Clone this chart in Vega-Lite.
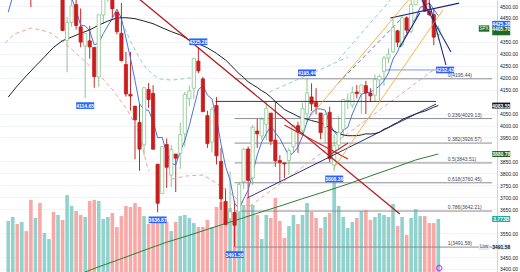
{
"$schema":"https://vega.github.io/schema/vega-lite/v6.json",
"width":497,"height":272,"autosize":{"type":"none"},"padding":{"left":0,"top":0,"right":23,"bottom":0},"background":"#ffffff",
"config":{"view":{"stroke":null},"font":"Liberation Sans"},
"datasets":{
"cd":[
{"i":0,"o":4553.7,"h":4608.1,"l":4537.4,"c":4605.4,"v":3.64},
{"i":1,"o":4610.6,"h":4718.5,"l":4595.1,"c":4697.5,"v":3.92},
{"i":2,"o":4701.5,"h":4714.9,"l":4630.9,"c":4682.9,"v":3.42},
{"i":3,"o":4689.3,"h":4743.8,"l":4650.1,"c":4698.0,"v":3.57},
{"i":4,"o":4712.0,"h":4717.8,"l":4585.4,"c":4594.6,"v":2.92},
{"i":5,"o":4628.8,"h":4672.9,"l":4495.1,"c":4538.4,"v":5.14},
{"i":6,"o":4548.4,"h":4713.6,"l":4532.3,"c":4712.0,"v":3.85},
{"i":7,"o":4710.3,"h":4731.9,"l":4600.2,"c":4620.6,"v":4.92},
{"i":8,"o":4587.9,"h":4740.7,"l":4531.1,"c":4725.8,"v":2.78},
{"i":9,"o":4733.0,"h":4808.9,"l":4733.0,"c":4766.2,"v":2.35},
{"i":10,"o":4778.1,"h":4818.6,"l":4662.7,"c":4677.0,"v":4.28},
{"i":11,"o":4655.3,"h":4749.0,"l":4582.2,"c":4662.9,"v":4.07},
{"i":12,"o":4632.2,"h":4632.2,"l":4395.3,"c":4397.9,"v":3.71},
{"i":13,"o":4356.3,"h":4453.2,"l":4222.6,"c":4431.9,"v":5.49},
{"i":14,"o":4431.8,"h":4595.3,"l":4414.0,"c":4500.5,"v":4.71},
{"i":15,"o":4505.8,"h":4590.0,"l":4401.4,"c":4418.6,"v":4.35},
{"i":16,"o":4412.6,"h":4489.6,"l":4327.2,"c":4348.9,"v":4.07},
{"i":17,"o":4332.7,"h":4362.1,"l":4114.7,"c":4384.7,"v":3.92},
{"i":18,"o":4354.2,"h":4416.8,"l":4279.5,"c":4328.9,"v":5.06},
{"i":19,"o":4327.0,"h":4327.0,"l":4157.9,"c":4204.3,"v":5.14},
{"i":20,"o":4202.8,"h":4465.4,"l":4161.7,"c":4463.1,"v":5.06},
{"i":21,"o":4462.4,"h":4546.0,"l":4424.3,"c":4543.1,"v":3.78},
{"i":22,"o":4541.1,"h":4637.3,"l":4517.7,"c":4545.9,"v":3.92},
{"i":23,"o":4547.0,"h":4593.5,"l":4450.0,"c":4488.3,"v":4.21},
{"i":24,"o":4474.7,"h":4474.7,"l":4381.3,"c":4392.6,"v":3.21},
{"i":25,"o":4385.6,"h":4512.9,"l":4267.6,"c":4271.8,"v":3.99},
{"i":26,"o":4255.3,"h":4308.5,"l":4121.0,"c":4131.9,"v":4.71},
{"i":27,"o":4130.6,"h":4307.7,"l":4062.5,"c":4123.3,"v":4.64},
{"i":28,"o":4081.3,"h":4081.3,"l":3858.9,"c":4023.9,"v":4.92},
{"i":29,"o":4013.0,"h":4090.7,"l":3810.3,"c":3901.4,"v":4.64},
{"i":30,"o":3919.4,"h":4158.5,"l":3875.1,"c":4158.2,"v":3.99},
{"i":31,"o":4151.1,"h":4177.5,"l":4073.9,"c":4108.5,"v":3.42},
{"i":32,"o":4134.7,"h":4168.8,"l":3900.2,"c":3900.9,"v":3.49},
{"i":33,"o":3838.2,"h":3838.2,"l":3636.9,"c":3674.8,"v":3.57},
{"i":34,"o":3715.3,"h":3913.7,"l":3715.3,"c":3911.7,"v":3.85},
{"i":35,"o":3920.8,"h":3945.9,"l":3738.7,"c":3825.3,"v":3.57},
{"i":36,"o":3792.6,"h":3918.5,"l":3742.1,"c":3899.4,"v":2.92},
{"i":37,"o":3880.9,"h":3880.9,"l":3721.6,"c":3863.2,"v":3.57},
{"i":38,"o":3883.8,"h":4012.4,"l":3818.6,"c":3961.6,"v":3.99},
{"i":39,"o":3965.7,"h":4140.2,"l":3911.1,"c":4130.3,"v":4.07},
{"i":40,"o":4112.4,"h":4167.7,"l":4079.8,"c":4145.2,"v":3.85},
{"i":41,"o":4155.9,"h":4280.5,"l":4112.1,"c":4280.2,"v":3.49},
{"i":42,"o":4269.4,"h":4325.3,"l":4218.7,"c":4228.5,"v":3.21},
{"i":43,"o":4195.1,"h":4203.0,"l":4057.7,"c":4057.7,"v":3.21},
{"i":44,"o":4041.3,"h":4062.0,"l":3906.2,"c":3924.3,"v":3.71},
{"i":45,"o":3930.9,"h":4076.8,"l":3886.8,"c":4067.4,"v":3.21},
{"i":46,"o":4083.7,"h":4119.3,"l":3837.1,"c":3873.3,"v":4.64},
{"i":47,"o":3849.9,"h":3906.0,"l":3647.5,"c":3693.2,"v":4.99},
{"i":48,"o":3682.7,"h":3736.7,"l":3584.1,"c":3585.6,"v":3.85},
{"i":49,"o":3609.8,"h":3806.9,"l":3609.8,"c":3639.7,"v":4.56},
{"i":50,"o":3636.3,"h":3685.4,"l":3491.6,"c":3583.1,"v":4.14},
{"i":51,"o":3638.7,"h":3762.8,"l":3638.7,"c":3752.8,"v":4.78},
{"i":52,"o":3764.7,"h":3905.4,"l":3735.0,"c":3901.1,"v":4.78},
{"i":53,"o":3901.8,"h":3911.8,"l":3698.2,"c":3770.6,"v":5.28},
{"i":54,"o":3780.7,"h":4001.5,"l":3751.0,"c":3992.9,"v":4.78},
{"i":55,"o":3977.0,"h":4028.8,"l":3906.5,"c":3965.3,"v":4.07},
{"i":56,"o":3956.2,"h":4034.0,"l":3940.0,"c":4026.1,"v":2.35},
{"i":57,"o":4005.4,"h":4101.0,"l":3938.0,"c":4071.7,"v":4.07},
{"i":58,"o":4052.0,"h":4052.5,"l":3918.4,"c":3934.4,"v":3.85},
{"i":59,"o":3939.3,"h":4100.5,"l":3827.3,"c":3852.4,"v":5.28},
{"i":60,"o":3853.8,"h":3876.1,"l":3764.5,"c":3844.8,"v":3.64},
{"i":61,"o":3843.3,"h":3846.7,"l":3780.0,"c":3839.5,"v":2.43},
{"i":62,"o":3853.3,"h":3906.0,"l":3794.3,"c":3895.1,"v":3.28},
{"i":63,"o":3910.8,"h":4004.0,"l":3885.0,"c":3999.1,"v":4.07},
{"i":64,"o":3999.3,"h":4015.4,"l":3885.5,"c":3972.6,"v":3.42},
{"i":65,"o":3978.1,"h":4094.2,"l":3965.0,"c":4070.6,"v":4.07},
{"i":66,"o":4049.3,"h":4195.4,"l":4012.0,"c":4136.5,"v":4.92},
{"i":67,"o":4119.6,"h":4176.5,"l":4060.8,"c":4090.5,"v":4.28},
{"i":68,"o":4096.6,"h":4156.0,"l":4047.0,"c":4079.1,"v":3.85},
{"i":69,"o":4052.4,"h":4052.4,"l":3943.0,"c":3970.0,"v":3.14},
{"i":70,"o":3992.4,"h":4050.0,"l":3928.2,"c":4045.6,"v":3.92},
{"i":71,"o":4055.2,"h":4078.5,"l":3847.0,"c":3861.6,"v":4.21},
{"i":72,"o":3835.1,"h":3962.0,"l":3808.9,"c":3916.6,"v":6.56},
{"i":73,"o":3917.5,"h":4039.5,"l":3901.0,"c":3971.0,"v":4.71},
{"i":74,"o":3982.9,"h":4110.8,"l":3951.5,"c":4109.3,"v":3.92},
{"i":75,"o":4102.2,"h":4133.1,"l":4069.0,"c":4105.0,"v":3.14},
{"i":76,"o":4085.2,"h":4163.2,"l":4072.5,"c":4137.6,"v":3.57},
{"i":77,"o":4140.2,"h":4169.5,"l":4113.9,"c":4133.5,"v":3.85},
{"i":78,"o":4134.0,"h":4170.1,"l":4049.4,"c":4169.5,"v":4.35},
{"i":79,"o":4166.8,"h":4186.9,"l":4048.3,"c":4136.3,"v":4.42},
{"i":80,"o":4136.0,"h":4156.0,"l":4098.0,"c":4124.1,"v":3.71},
{"i":81,"o":4126.7,"h":4212.9,"l":4098.0,"c":4192.0,"v":3.92},
{"i":82,"o":4190.8,"h":4212.0,"l":4104.0,"c":4205.5,"v":4.21},
{"i":83,"o":4226.7,"h":4290.7,"l":4166.2,"c":4282.4,"v":4.07},
{"i":84,"o":4282.0,"h":4322.6,"l":4261.0,"c":4298.9,"v":3.92},
{"i":85,"o":4308.3,"h":4448.5,"l":4304.0,"c":4409.6,"v":4.85},
{"i":86,"o":4396.1,"h":4400.2,"l":4328.0,"c":4348.3,"v":3.28},
{"i":87,"o":4337.4,"h":4458.5,"l":4328.1,"c":4450.4,"v":3.92},
{"i":88,"o":4450.5,"h":4456.5,"l":4385.1,"c":4399.0,"v":2.64},
{"i":89,"o":4394.2,"h":4527.8,"l":4385.0,"c":4505.4,"v":3.85},
{"i":90,"o":4505.4,"h":4578.4,"l":4504.5,"c":4536.3,"v":4.49},
{"i":91,"o":4543.4,"h":4607.1,"l":4527.6,"c":4582.2,"v":3.99},
{"i":92,"o":4578.8,"h":4584.6,"l":4474.6,"c":4478.0,"v":3.99},
{"i":93,"o":4478.9,"h":4527.4,"l":4458.7,"c":4464.1,"v":3.49},
{"i":94,"o":4464.1,"h":4490.3,"l":4335.3,"c":4369.7,"v":3.49},
{"i":95,"o":4380.3,"h":4418.5,"l":4356.3,"c":4405.7,"v":3.78}
],
"ma":[
{"k":"m5","i":0,"p":4474.0},{"k":"m5","i":1,"p":4542.1},{"k":"m5","i":2,"p":4600.2},{"k":"m5","i":3,"p":4645.7},{"k":"m5","i":4,"p":4655.7},{"k":"m5","i":5,"p":4642.3},{"k":"m5","i":6,"p":4645.2},{"k":"m5","i":7,"p":4632.7},{"k":"m5","i":8,"p":4638.3},{"k":"m5","i":9,"p":4672.6},{"k":"m5","i":10,"p":4700.3},{"k":"m5","i":11,"p":4690.5},{"k":"m5","i":12,"p":4646.0},{"k":"m5","i":13,"p":4587.2},{"k":"m5","i":14,"p":4534.0},{"k":"m5","i":15,"p":4482.4},{"k":"m5","i":16,"p":4419.6},{"k":"m5","i":17,"p":4416.9},{"k":"m5","i":18,"p":4396.3},{"k":"m5","i":19,"p":4337.1},{"k":"m5","i":20,"p":4346.0},{"k":"m5","i":21,"p":4384.8},{"k":"m5","i":22,"p":4417.0},{"k":"m5","i":23,"p":4448.9},{"k":"m5","i":24,"p":4486.6},{"k":"m5","i":25,"p":4448.3},{"k":"m5","i":26,"p":4366.1},{"k":"m5","i":27,"p":4281.6},{"k":"m5","i":28,"p":4188.7},{"k":"m5","i":29,"p":4090.5},{"k":"m5","i":30,"p":4067.8},{"k":"m5","i":31,"p":4063.1},{"k":"m5","i":32,"p":4018.6},{"k":"m5","i":33,"p":3948.8},{"k":"m5","i":34,"p":3950.8},{"k":"m5","i":35,"p":3884.3},{"k":"m5","i":36,"p":3842.4},{"k":"m5","i":37,"p":3834.9},{"k":"m5","i":38,"p":3892.2},{"k":"m5","i":39,"p":3936.0},{"k":"m5","i":40,"p":4000.0},{"k":"m5","i":41,"p":4076.1},{"k":"m5","i":42,"p":4149.1},{"k":"m5","i":43,"p":4168.4},{"k":"m5","i":44,"p":4127.1},{"k":"m5","i":45,"p":4111.6},{"k":"m5","i":46,"p":4030.2},{"k":"m5","i":47,"p":3923.2},{"k":"m5","i":48,"p":3828.8},{"k":"m5","i":49,"p":3771.8},{"k":"m5","i":50,"p":3675.0},{"k":"m5","i":51,"p":3650.9},{"k":"m5","i":52,"p":3692.4},{"k":"m5","i":53,"p":3729.4},{"k":"m5","i":54,"p":3800.1},{"k":"m5","i":55,"p":3876.5},{"k":"m5","i":56,"p":3931.2},{"k":"m5","i":57,"p":3965.3},{"k":"m5","i":58,"p":3998.1},{"k":"m5","i":59,"p":3970.0},{"k":"m5","i":60,"p":3945.9},{"k":"m5","i":61,"p":3908.6},{"k":"m5","i":62,"p":3873.2},{"k":"m5","i":63,"p":3886.2},{"k":"m5","i":64,"p":3910.2},{"k":"m5","i":65,"p":3955.4},{"k":"m5","i":66,"p":4014.8},{"k":"m5","i":67,"p":4053.8},{"k":"m5","i":68,"p":4069.8},{"k":"m5","i":69,"p":4069.3},{"k":"m5","i":70,"p":4064.3},{"k":"m5","i":71,"p":4009.4},{"k":"m5","i":72,"p":3974.6},{"k":"m5","i":73,"p":3953.0},{"k":"m5","i":74,"p":3980.8},{"k":"m5","i":75,"p":3992.7},{"k":"m5","i":76,"p":4047.9},{"k":"m5","i":77,"p":4091.3},{"k":"m5","i":78,"p":4131.0},{"k":"m5","i":79,"p":4136.4},{"k":"m5","i":80,"p":4140.2},{"k":"m5","i":81,"p":4151.1},{"k":"m5","i":82,"p":4165.4},{"k":"m5","i":83,"p":4188.0},{"k":"m5","i":84,"p":4220.5},{"k":"m5","i":85,"p":4277.7},{"k":"m5","i":86,"p":4308.9},{"k":"m5","i":87,"p":4357.9},{"k":"m5","i":88,"p":4381.2},{"k":"m5","i":89,"p":4422.5},{"k":"m5","i":90,"p":4447.9},{"k":"m5","i":91,"p":4494.7},{"k":"m5","i":92,"p":4500.2},{"k":"m5","i":93,"p":4513.2},{"k":"m5","i":94,"p":4486.1},{"k":"m5","i":95,"p":4459.9},
{"k":"m50","i":0,"p":4119},{"k":"m50","i":2,"p":4166},{"k":"m50","i":4,"p":4208},{"k":"m50","i":6,"p":4248},{"k":"m50","i":8,"p":4287},{"k":"m50","i":10,"p":4327},{"k":"m50","i":12,"p":4355},{"k":"m50","i":14,"p":4370},{"k":"m50","i":16,"p":4386},{"k":"m50","i":18,"p":4400},{"k":"m50","i":20,"p":4420},{"k":"m50","i":22,"p":4437},{"k":"m50","i":24,"p":4450},{"k":"m50","i":26,"p":4451},{"k":"m50","i":28,"p":4447},{"k":"m50","i":30,"p":4437},{"k":"m50","i":32,"p":4426},{"k":"m50","i":34,"p":4409},{"k":"m50","i":36,"p":4393},{"k":"m50","i":38,"p":4379},{"k":"m50","i":40,"p":4358},{"k":"m50","i":42,"p":4342},{"k":"m50","i":44,"p":4325},{"k":"m50","i":46,"p":4302},{"k":"m50","i":48,"p":4274},{"k":"m50","i":49,"p":4256.2},{"k":"m50","i":50,"p":4235.8},{"k":"m50","i":51,"p":4216.9},{"k":"m50","i":52,"p":4201.2},{"k":"m50","i":53,"p":4182.7},{"k":"m50","i":54,"p":4170.7},{"k":"m50","i":55,"p":4159.2},{"k":"m50","i":56,"p":4145.5},{"k":"m50","i":57,"p":4134.5},{"k":"m50","i":58,"p":4118.7},{"k":"m50","i":59,"p":4100.4},{"k":"m50","i":60,"p":4083.8},{"k":"m50","i":61,"p":4067.3},{"k":"m50","i":62,"p":4057.2},{"k":"m50","i":63,"p":4048.6},{"k":"m50","i":64,"p":4038.0},{"k":"m50","i":65,"p":4031.1},{"k":"m50","i":66,"p":4026.8},{"k":"m50","i":67,"p":4020.9},{"k":"m50","i":68,"p":4015.9},{"k":"m50","i":69,"p":4011.3},{"k":"m50","i":70,"p":4002.9},{"k":"m50","i":71,"p":3989.3},{"k":"m50","i":72,"p":3976.7},{"k":"m50","i":73,"p":3966.4},{"k":"m50","i":74,"p":3960.7},{"k":"m50","i":75,"p":3957.4},{"k":"m50","i":76,"p":3957.5},{"k":"m50","i":77,"p":3957.7},{"k":"m50","i":78,"p":3960.6},{"k":"m50","i":79,"p":3965.3},{"k":"m50","i":80,"p":3964.6},{"k":"m50","i":81,"p":3966.3},{"k":"m50","i":82,"p":3972.4},{"k":"m50","i":83,"p":3984.5},{"k":"m50","i":84,"p":3992.3},{"k":"m50","i":85,"p":4004.0},{"k":"m50","i":86,"p":4012.9},{"k":"m50","i":87,"p":4024.7},{"k":"m50","i":88,"p":4033.4},{"k":"m50","i":89,"p":4040.9},{"k":"m50","i":90,"p":4048.8},{"k":"m50","i":91,"p":4054.8},{"k":"m50","i":92,"p":4059.8},{"k":"m50","i":93,"p":4067.9},{"k":"m50","i":94,"p":4076.8},{"k":"m50","i":95,"p":4083.6},
{"k":"m200","i":15,"p":3373},{"k":"m200","i":20,"p":3409},{"k":"m200","i":25,"p":3443},{"k":"m200","i":30,"p":3478},{"k":"m200","i":35,"p":3512},{"k":"m200","i":40,"p":3541},{"k":"m200","i":45,"p":3572},{"k":"m200","i":50,"p":3602},{"k":"m200","i":55,"p":3633},{"k":"m200","i":60,"p":3663},{"k":"m200","i":65,"p":3694},{"k":"m200","i":70,"p":3724},{"k":"m200","i":75,"p":3755},{"k":"m200","i":80,"p":3789},{"k":"m200","i":85,"p":3822},{"k":"m200","i":90,"p":3856},{"k":"m200","i":95,"p":3881}
],
"arcs":[
{"k":"a1","i":-0.7,"p":4345},{"k":"a1","i":1.4,"p":4383},{"k":"a1","i":5.1,"p":4408},{"k":"a1","i":9.0,"p":4391},{"k":"a1","i":12.3,"p":4349},{"k":"a1","i":16.6,"p":4274},{"k":"a1","i":19.9,"p":4216},{"k":"a1","i":23.1,"p":4149},{"k":"a1","i":26.3,"p":4065},{"k":"a1","i":28.5,"p":3990},{"k":"a1","i":31.0,"p":3810},
{"k":"a2","i":36.1,"p":3776},{"k":"a2","i":39.3,"p":3789},{"k":"a2","i":43.2,"p":3793},{"k":"a2","i":46.9,"p":3747},{"k":"a2","i":51.2,"p":3684},{"k":"a2","i":53.4,"p":3663},
{"k":"a3","i":25.7,"p":4408},{"k":"a3","i":27.4,"p":4337},{"k":"a3","i":29.0,"p":4282},{"k":"a3","i":30.2,"p":4245},{"k":"a3","i":31.8,"p":4216},{"k":"a3","i":33.3,"p":4195},{"k":"a3","i":36.1,"p":4190},{"k":"a3","i":40.4,"p":4199},
{"k":"t1","i":57.7,"p":4140},{"k":"t1","i":75.0,"p":4286},
{"k":"t2","i":72.9,"p":4274},{"k":"t2","i":84.4,"p":4525},
{"k":"p1","i":53.4,"p":3663},{"k":"p1","i":94.5,"p":4240},
{"k":"b1","i":72.9,"p":4178},{"k":"b1","i":87.0,"p":4450}
],
"seg":[
{"k":"fib","i":50,"p":4195.44,"i2":106.86,"p2":4195.44},
{"k":"fib","i":50,"p":4029.13,"i2":106.86,"p2":4029.13},
{"k":"fib","i":50,"p":3926.57,"i2":106.86,"p2":3926.57},
{"k":"fib","i":50,"p":3843.51,"i2":106.86,"p2":3843.51},
{"k":"fib","i":50,"p":3760.45,"i2":106.86,"p2":3760.45},
{"k":"fib","i":50,"p":3642.21,"i2":106.86,"p2":3642.21},
{"k":"fib","i":50,"p":3491.58,"i2":106.86,"p2":3491.58},
{"k":"blueT","i":82.6,"p":4232.43,"i2":94.5,"p2":4232.43},
{"k":"red","i":22,"p":4637.3,"i2":86.5,"p2":3630},
{"k":"redT","i":61.0,"p":4002,"i2":75.05,"p2":3860},
{"k":"redT","i":70.7,"p":3873,"i2":75.05,"p2":3927},
{"k":"navyT","i":45.8,"p":4100.96,"i2":94.5,"p2":4100.96},
{"k":"navyT","i":52.8,"p":3697,"i2":94.5,"p2":4090},
{"k":"navy","i":84.4,"p":4450,"i2":99.6,"p2":4512},
{"k":"navy","i":90.9,"p":4542,"i2":97.8,"p2":4308},
{"k":"navy","i":93.0,"p":4512,"i2":96.7,"p2":4253},
{"k":"navy","i":86.5,"p":4328,"i2":90.9,"p2":4471},
{"k":"orange","i":66.4,"p":4031.5,"i2":90.0,"p2":4560},
{"k":"orange","i":71.8,"p":3818,"i2":96.0,"p2":4483}
],
"fibl":[
{"p":4195.44,"t":"0(4195.44)"},{"p":4029.13,"t":"0.236(4029.13)"},{"p":3926.57,"t":"0.382(3926.57)"},{"p":3843.51,"t":"0.5(3843.51)"},{"p":3760.45,"t":"0.618(3760.45)"},{"p":3642.21,"t":"0.786(3642.21)"},{"p":3491.58,"t":"1(3491.58)"}
],
"lab":[
{"i":17,"p":4114.65,"side":"below"},{"i":42,"p":4325.28,"side":"above"},{"i":33,"p":3636.87,"side":"below"},{"i":50,"p":3491.58,"side":"below"},{"i":66,"p":4195.44,"side":"above"},{"i":72,"p":3808.36,"side":"below"},{"i":96.5,"p":4232.43,"side":"mid"}
],
"ax":[
{"p":4425.38,"t":"4425.38","kind":"ma5"},{"p":4083.55,"t":"4083.55","kind":"ma50"},{"p":3880.78,"t":"3880.78","kind":"ma200"},{"p":3609.0,"t":"3.773B","kind":"vol"},{"p":3491.58,"t":"3491.58","kind":"low"}
],
"last":[{"p":4405.70,"t":"4405.70"}],
"tags":[{"p":4405.70,"t":"SPX","kind":"spx"},{"p":3491.58,"t":"Low","kind":"low"}],
"icon":[{"i":95.2,"p":3404}]
},
"resolve":{"scale":{"y":"independent"},"axis":{"y":"independent"}},
"layer":[
{"data":{"name":"fibl"},"mark":{"type":"point","opacity":0,"clip":true},
 "encoding":{
  "y":{"field":"p","type":"quantitative","scale":{"domain":[3387.3,4525.1],"nice":false,"zero":false},
   "axis":{"orient":"right","title":null,"values":[3400,3450,3550,3650,3700,3750,3800,3850,3950,4000,4050,4150,4200,4250,4300,4350,4450,4500],"format":".2f","labelFontSize":5,"labelColor":"#131722","labelPadding":2.5,"ticks":false,"grid":true,"gridColor":"#f0f3fa","domainColor":"#d1d4dc","labelOverlap":false,"labelSeparation":0,"labelBound":false,"labelFlush":false}}}},
{"data":{"name":"cd"},"mark":{"type":"bar","width":3.6},
 "encoding":{
  "x":{"field":"i","type":"quantitative","scale":{"domain":[-0.714,106.86],"nice":false,"zero":false},"axis":null},
  "y":{"field":"v","type":"quantitative","scale":{"domain":[0,19.4],"nice":false},"axis":null},
  "color":{"condition":{"test":"datum.c >= datum.o","value":"#92d2cc"},"value":"#f7a9a7"}}},
{"resolve":{"scale":{"color":"independent","size":"independent"}},
 "layer":[
 {"data":{"name":"cd"},"mark":{"type":"rule","clip":true,"strokeWidth":1},
  "encoding":{
   "x":{"field":"i","type":"quantitative","scale":{"domain":[-0.714,106.86],"nice":false,"zero":false},"axis":null},
   "y":{"field":"l","type":"quantitative","scale":{"domain":[3387.3,4525.1],"nice":false,"zero":false},"axis":null},
   "y2":{"field":"h"},
   "color":{"condition":{"test":"datum.c >= datum.o","value":"#8cc78f"},"value":"#c62828"}}},
 {"data":{"name":"seg"},"transform":[{"filter":"datum.k == 'fib' || datum.k == 'blueT'"}],"mark":{"type":"rule","clip":true,"strokeWidth":1},
  "encoding":{
   "x":{"field":"i","type":"quantitative","scale":{"domain":[-0.714,106.86],"nice":false,"zero":false},"axis":null},
   "x2":{"field":"i2"},
   "y":{"field":"p","type":"quantitative","scale":{"domain":[3387.3,4525.1],"nice":false,"zero":false},"axis":null},
   "y2":{"field":"p2"},
   "color":{"field":"k","type":"nominal","scale":{"domain":["fib","blueT"],"range":["#8a8d96","#6f9cf2"]},"legend":null}}},
 {"data":{"name":"arcs"},"mark":{"type":"line","clip":true,"strokeWidth":1,"strokeDash":[4,3]},
  "encoding":{
   "x":{"field":"i","type":"quantitative","scale":{"domain":[-0.714,106.86],"nice":false,"zero":false},"axis":null},
   "y":{"field":"p","type":"quantitative","scale":{"domain":[3387.3,4525.1],"nice":false,"zero":false},"axis":null},
   "detail":{"field":"k"},
   "color":{"field":"k","type":"nominal","scale":{"domain":["a1","a2","a3","t1","t2","p1","b1"],"range":["#f2a1a1","#f2a1a1","#8fcfc8","#8fcfc8","#8fcfc8","#f2a1a1","#5b7fe0"]},"legend":null}}},
 {"data":{"name":"ma"},"mark":{"type":"line","clip":true,"strokeWidth":1},
  "encoding":{
   "x":{"field":"i","type":"quantitative","scale":{"domain":[-0.714,106.86],"nice":false,"zero":false},"axis":null},
   "y":{"field":"p","type":"quantitative","scale":{"domain":[3387.3,4525.1],"nice":false,"zero":false},"axis":null},
   "detail":{"field":"k"},
   "color":{"field":"k","type":"nominal","scale":{"domain":["m5","m50","m200"],"range":["#4a72e8","#222222","#2e7d32"]},"legend":null}}},
 {"data":{"name":"cd"},"mark":{"type":"bar","width":3.2,"clip":true,"strokeWidth":0.8},
  "encoding":{
   "x":{"field":"i","type":"quantitative","scale":{"domain":[-0.714,106.86],"nice":false,"zero":false},"axis":null},
   "y":{"field":"o","type":"quantitative","scale":{"domain":[3387.3,4525.1],"nice":false,"zero":false},"axis":null},
   "y2":{"field":"c"},
   "fill":{"condition":{"test":"datum.c >= datum.o","value":"#ffffff"},"value":"#c81e1e"},
   "stroke":{"condition":{"test":"datum.c >= datum.o","value":"#8cc78f"},"value":"#c81e1e"}}},
 {"data":{"name":"seg"},"transform":[{"filter":"datum.k != 'fib' && datum.k != 'blueT'"}],"mark":{"type":"rule","clip":true},
  "encoding":{
   "x":{"field":"i","type":"quantitative","scale":{"domain":[-0.714,106.86],"nice":false,"zero":false},"axis":null},
   "x2":{"field":"i2"},
   "y":{"field":"p","type":"quantitative","scale":{"domain":[3387.3,4525.1],"nice":false,"zero":false},"axis":null},
   "y2":{"field":"p2"},
   "color":{"field":"k","type":"nominal","scale":{"domain":["red","redT","navy","navyT","orange"],"range":["#b71c1c","#c62828","#1a237e","#1a237e","#f7a21b"]},"legend":null},
   "size":{"field":"k","type":"nominal","scale":{"domain":["red","redT","navy","navyT","orange"],"range":[1.3,0.8,1.2,2,1.3]},"legend":null}}},
 {"data":{"name":"fibl"},"mark":{"type":"text","align":"left","baseline":"bottom","dy":-1,"fontSize":5,"color":"#434651"},
  "encoding":{
   "x":{"datum":97.1,"type":"quantitative","scale":{"domain":[-0.714,106.86],"nice":false,"zero":false},"axis":null},
   "y":{"field":"p","type":"quantitative","scale":{"domain":[3387.3,4525.1],"nice":false,"zero":false},"axis":null},
   "text":{"field":"t"}}},
 {"data":{"name":"icon"},"mark":{"type":"point","shape":"circle","size":28,"filled":false,"color":"#d500f9","strokeWidth":1.2,"clip":false},
  "encoding":{
   "x":{"field":"i","type":"quantitative","scale":{"domain":[-0.714,106.86],"nice":false,"zero":false},"axis":null},
   "y":{"field":"p","type":"quantitative","scale":{"domain":[3387.3,4525.1],"nice":false,"zero":false},"axis":null}}},
 {"data":{"name":"lab"},"transform":[{"filter":"datum.side == 'below'"}],"layer":[
   {"mark":{"type":"point","shape":"M-1,-0.37L1,-0.37L1,0.37L-1,0.37Z","size":324,"filled":true,"color":"#2962ff","opacity":1,"yOffset":7.5}},
   {"mark":{"type":"text","fontSize":5,"fontWeight":"bold","color":"#ffffff","yOffset":7.5,"baseline":"middle"},"encoding":{"text":{"field":"p","format":".2f"}}}],
  "encoding":{
   "x":{"field":"i","type":"quantitative","scale":{"domain":[-0.714,106.86],"nice":false,"zero":false},"axis":null},
   "y":{"field":"p","type":"quantitative","scale":{"domain":[3387.3,4525.1],"nice":false,"zero":false},"axis":null}}},
 {"data":{"name":"lab"},"transform":[{"filter":"datum.side == 'above'"}],"layer":[
   {"mark":{"type":"point","shape":"M-1,-0.37L1,-0.37L1,0.37L-1,0.37Z","size":324,"filled":true,"color":"#2962ff","opacity":1,"yOffset":-6}},
   {"mark":{"type":"text","fontSize":5,"fontWeight":"bold","color":"#ffffff","yOffset":-6,"baseline":"middle"},"encoding":{"text":{"field":"p","format":".2f"}}}],
  "encoding":{
   "x":{"field":"i","type":"quantitative","scale":{"domain":[-0.714,106.86],"nice":false,"zero":false},"axis":null},
   "y":{"field":"p","type":"quantitative","scale":{"domain":[3387.3,4525.1],"nice":false,"zero":false},"axis":null}}},
 {"data":{"name":"lab"},"transform":[{"filter":"datum.side == 'mid'"}],"layer":[
   {"mark":{"type":"point","shape":"M-1,-0.37L1,-0.37L1,0.37L-1,0.37Z","size":324,"filled":true,"color":"#2962ff","opacity":1}},
   {"mark":{"type":"text","fontSize":5,"fontWeight":"bold","color":"#ffffff","baseline":"middle"},"encoding":{"text":{"field":"p","format":".2f"}}}],
  "encoding":{
   "x":{"field":"i","type":"quantitative","scale":{"domain":[-0.714,106.86],"nice":false,"zero":false},"axis":null},
   "y":{"field":"p","type":"quantitative","scale":{"domain":[3387.3,4525.1],"nice":false,"zero":false},"axis":null}}},
 {"data":{"name":"ax"},"layer":[
   {"mark":{"type":"point","shape":"M-1,-0.33L1,-0.33L1,0.33L-1,0.33Z","size":324,"filled":true,"opacity":1,"clip":false},
    "encoding":{"color":{"field":"kind","type":"nominal","scale":{"domain":["ma5","ma50","ma200","vol","low"],"range":["#2962ff","#131722","#1e5e24","#26a69a","#e4ecf7"]},"legend":null}}},
   {"mark":{"type":"text","fontSize":5,"fontWeight":"bold","baseline":"middle","clip":false},
    "encoding":{"text":{"field":"t"},"color":{"condition":{"test":"datum.kind == 'low'","value":"#131722"},"value":"#ffffff"}}}],
  "encoding":{
   "x":{"datum":108.9,"type":"quantitative","scale":{"domain":[-0.714,106.86],"nice":false,"zero":false},"axis":null},
   "y":{"field":"p","type":"quantitative","scale":{"domain":[3387.3,4525.1],"nice":false,"zero":false},"axis":null}}},
 {"data":{"name":"last"},"layer":[
   {"mark":{"type":"point","shape":"M-1,-0.47L1,-0.47L1,0.47L-1,0.47Z","size":324,"filled":true,"opacity":1,"color":"#1b6b22","clip":false,"yOffset":2.5}},
   {"mark":{"type":"text","fontSize":5,"fontWeight":"bold","baseline":"middle","color":"#ffffff","clip":false,"yOffset":0.8},"encoding":{"text":{"field":"t"}}}],
  "encoding":{
   "x":{"datum":108.9,"type":"quantitative","scale":{"domain":[-0.714,106.86],"nice":false,"zero":false},"axis":null},
   "y":{"field":"p","type":"quantitative","scale":{"domain":[3387.3,4525.1],"nice":false,"zero":false},"axis":null}}},
 {"data":{"name":"tags"},"layer":[
   {"mark":{"type":"point","shape":"M-1,-0.6L1,-0.6L1,0.6L-1,0.6Z","size":110,"filled":true,"opacity":1,"clip":false},
    "encoding":{"color":{"field":"kind","type":"nominal","scale":{"domain":["spx","low"],"range":["#1b6b22","#e4ecf7"]},"legend":null}}},
   {"mark":{"type":"text","fontSize":4.5,"baseline":"middle","clip":false},
    "encoding":{"text":{"field":"t"},"color":{"condition":{"test":"datum.kind == 'low'","value":"#434651"},"value":"#ffffff"}}}],
  "encoding":{
   "x":{"datum":105.1,"type":"quantitative","scale":{"domain":[-0.714,106.86],"nice":false,"zero":false},"axis":null},
   "y":{"field":"p","type":"quantitative","scale":{"domain":[3387.3,4525.1],"nice":false,"zero":false},"axis":null}}}
]}
]}
